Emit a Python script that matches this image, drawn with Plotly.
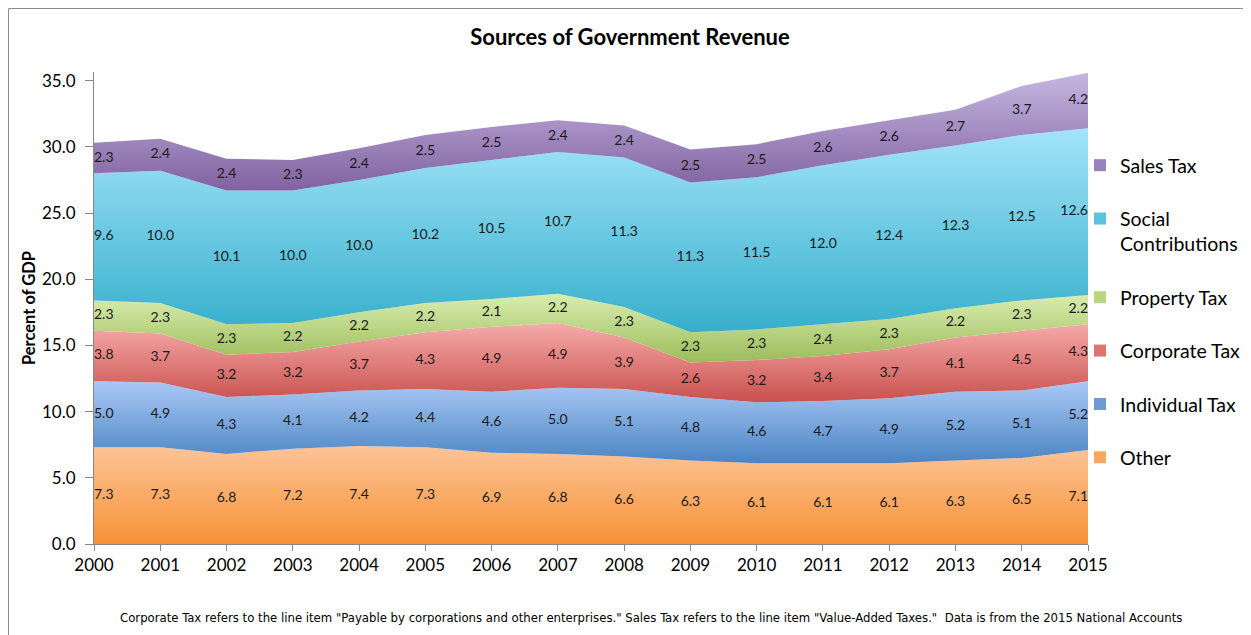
import plotly.graph_objects as go

years = list(range(2000, 2016))
other = [7.3, 7.3, 6.8, 7.2, 7.4, 7.3, 6.9, 6.8, 6.6, 6.3, 6.1, 6.1, 6.1, 6.3, 6.5, 7.1]
individual = [5.0, 4.9, 4.3, 4.1, 4.2, 4.4, 4.6, 5.0, 5.1, 4.8, 4.6, 4.7, 4.9, 5.2, 5.1, 5.2]
corporate = [3.8, 3.7, 3.2, 3.2, 3.7, 4.3, 4.9, 4.9, 3.9, 2.6, 3.2, 3.4, 3.7, 4.1, 4.5, 4.3]
property_tax = [2.3, 2.3, 2.3, 2.2, 2.2, 2.2, 2.1, 2.2, 2.3, 2.3, 2.3, 2.4, 2.3, 2.2, 2.3, 2.2]
social = [9.6, 10.0, 10.1, 10.0, 10.0, 10.2, 10.5, 10.7, 11.3, 11.3, 11.5, 12.0, 12.4, 12.3, 12.5, 12.6]
sales = [2.3, 2.4, 2.4, 2.3, 2.4, 2.5, 2.5, 2.4, 2.4, 2.5, 2.5, 2.6, 2.6, 2.7, 3.7, 4.2]

series = [
    ("Other", other, "#F79236", "#FDC497", "#FAA75E"),
    ("Individual Tax", individual, "#4A84C4", "#AAC9F5", "#6E9BD3"),
    ("Corporate Tax", corporate, "#C9504D", "#F6ABAA", "#DE7470"),
    ("Property Tax", property_tax, "#9CBC5B", "#D9EDAE", "#B8D67F"),
    ("Social\nContributions", social, "#36AFCC", "#A3E4F9", "#5CC3DF"),
    ("Sales Tax", sales, "#8062A0", "#C6B6E1", "#9A82BD"),
]

FONT = "Lato, 'Open Sans', sans-serif"
fig = go.Figure()

base = [0.0] * len(years)
for i, (name, vals, dark, light, mid) in enumerate(series):
    top = [b + v for b, v in zip(base, vals)]
    fig.add_trace(go.Scatter(
        x=years, y=vals, stackgroup="one", mode="lines",
        line=dict(width=0, color=mid),
        fillgradient=dict(type="vertical", start=min(base), stop=max(top),
                          colorscale=[[0, dark], [1, light]]),
        name=name.replace("\n", " "), showlegend=False, hoverinfo="skip",
    ))
    base = top

# legend entries (top of stack first)
for i, (name, vals, dark, light, mid) in enumerate(reversed(series)):
    fig.add_trace(go.Scatter(
        x=[None], y=[None], mode="markers",
        marker=dict(symbol="square", size=12, color=mid),
        name=name.replace("\n", "<br>"), legendgroup=f"g{i}",
    ))

# data labels
base = [0.0] * len(years)
for name, vals, dark, light, mid in series:
    mids = [b + v / 2 for b, v in zip(base, vals)]
    pos = ["middle center"] * len(years)
    pos[0] = "middle right"
    pos[-1] = "middle left"
    fig.add_trace(go.Scatter(
        x=years, y=mids, mode="text", text=[f"{v:.1f}" for v in vals],
        textposition=pos, textfont=dict(family=FONT, size=14, color="#1a1a1a"),
        showlegend=False, hoverinfo="skip", cliponaxis=False,
    ))
    base = [b + v for b, v in zip(base, vals)]

# page has an 8px body margin; work in reference-pixel coordinates
OFF = 8
W, H = 1251 - OFF, 635 - OFF
YMAX = 35.65
L = 94 - OFF
R = W - (1088 - OFF)
B = H - (544 - OFF)
T = 64
pw, ph = W - L - R, H - T - B

def px_x(p):
    return (p - OFF - L) / pw

def px_y(p):
    return (H - B - (p - OFF)) / ph

fig.update_layout(
    width=W, height=H,
    margin=dict(l=L, r=R, t=T, b=B, autoexpand=False),
    paper_bgcolor="white", plot_bgcolor="white",
    font=dict(family=FONT, color="#000000"),
    title=dict(text="<b>Sources of Government Revenue</b>", x=(630 - OFF) / W, xref="container",
               y=1 - (37 - OFF) / H, yref="container", xanchor="center", yanchor="middle",
               font=dict(family=FONT, size=22, color="#000")),
    showlegend=True,
    legend=dict(x=px_x(1080), xanchor="left", y=px_y(146), yanchor="top",
                traceorder="grouped", tracegroupgap=25, valign="top",
                font=dict(family=FONT, size=19.5, color="#000"),
                bgcolor="rgba(0,0,0,0)", itemsizing="constant"),
    xaxis=dict(range=[2000, 2015], tickmode="array", tickvals=years,
               ticktext=[str(y) for y in years],
               showgrid=False, zeroline=False, showline=True, linecolor="#868686",
               linewidth=1, ticks="outside", ticklen=6, tickcolor="#868686",
               tickfont=dict(family=FONT, size=17, color="#000")),
    yaxis=dict(range=[0, YMAX], tickmode="array", tickvals=[0, 5, 10, 15, 20, 25, 30, 35],
               tickformat=".1f",
               showgrid=False, zeroline=False, showline=True, linecolor="#868686",
               linewidth=1, ticks="outside", ticklen=8, tickcolor="#868686",
               ticklabelstandoff=6,
               tickfont=dict(family=FONT, size=17, color="#000"),
               title=dict(text="<b>Percent of GDP</b>", standoff=2,
                          font=dict(family=FONT, size=16.5, color="#000"))),
    annotations=[dict(
        text='Corporate Tax refers to the line item "Payable by corporations and other enterprises." '
             'Sales Tax refers to the line item "Value-Added Taxes."  Data is from the 2015 National Accounts',
        x=px_x(651), y=px_y(617), xref="paper", yref="paper", showarrow=False,
        xanchor="center", yanchor="middle",
        font=dict(family="'Liberation Sans Narrow', 'DejaVu Sans Condensed', sans-serif", size=13, color="#000"),
    )],
    shapes=[
        dict(type="line", xref="paper", yref="paper", x0=px_x(8.5), x1=px_x(1300),
             y0=px_y(8.5), y1=px_y(8.5), line=dict(color="#8C8C8C", width=1)),
        dict(type="line", xref="paper", yref="paper", x0=px_x(8.5), x1=px_x(8.5),
             y0=px_y(8.5), y1=px_y(700), line=dict(color="#8C8C8C", width=1)),
    ],
)

fig.write_html("out.html")
